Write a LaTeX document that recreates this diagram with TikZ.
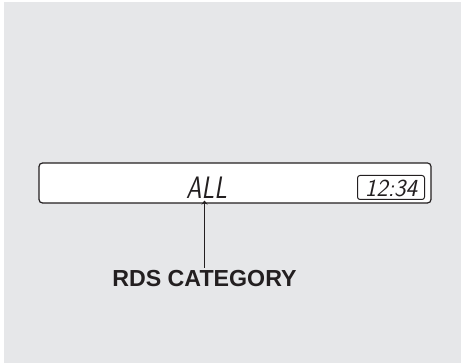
\documentclass[tikz,border=0pt]{standalone}
\usepackage{fontspec}
\setmainfont{Liberation Sans}
\usetikzlibrary{arrows.meta}
\definecolor{bg}{HTML}{E6E7E9}
\definecolor{ink}{HTML}{231F20}
\newfontfamily\segfont{Latin Modern Sans}
\begin{document}
\begin{tikzpicture}[x=1pt,y=-1pt,
  panel/.style={draw=ink,line width=1.2pt,fill=white,rounded corners=3.5pt,inner sep=0pt},
  clockbox/.style={draw=ink,line width=1pt,rounded corners=2.5pt,inner sep=0pt},
  segtext/.style={text=ink,inner sep=0pt,font=\segfont\itshape},
  caption/.style={text=ink,inner sep=0pt,font=\fontsize{23.2}{27}\selectfont\bfseries},
  pointer/.style={draw=ink,line width=1.7pt,-{Stealth[length=4pt,width=6pt]}}]
\useasboundingbox (0,0) rectangle (461,363);
\fill[white] (0,0) rectangle (461,363);
\fill[bg] (4,2) rectangle (461,363);
\node[panel,minimum width=392pt,minimum height=40pt] (disp) at (235,183) {};
\node[clockbox,minimum width=67pt,minimum height=24pt] (clock) at (391,187.5) {};
\node[segtext,anchor=base,xscale=0.8,font=\segfont\itshape\fontsize{31}{34}\selectfont] (all) at (206.5,199) {ALL};
\node[segtext,anchor=base,font=\segfont\itshape\fontsize{24.5}{28}\selectfont] (time) at (391,196.5) {12:34};
\node[caption,anchor=base] (lbl) at (204.5,287) {RDS CATEGORY};
\coordinate (tip) at (204.5,200.5);
\draw[pointer] (lbl.north -| tip) ++(0,-3) -- (tip);
\end{tikzpicture}
\end{document}
